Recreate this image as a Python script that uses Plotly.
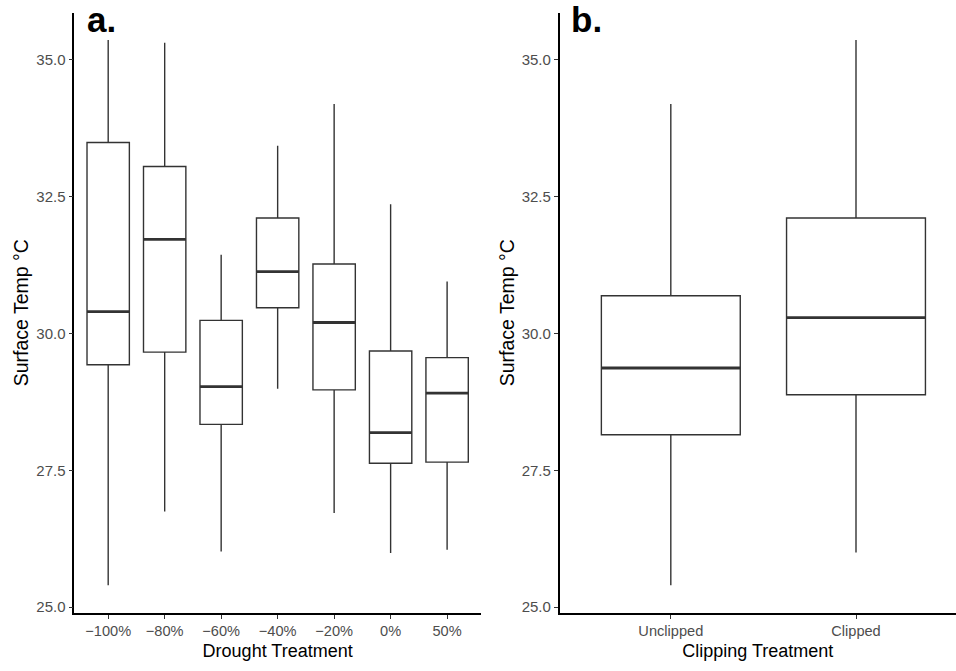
import plotly.graph_objects as go

# Panel a: surface temperature by drought treatment (five-number summaries)
drought_levels = ["\u2212100%", "\u221280%", "\u221260%", "\u221240%", "\u221220%", "0%", "50%"]
drought_low = [25.40, 26.75, 26.02, 28.99, 26.72, 25.99, 26.05]
drought_q1 = [29.43, 29.66, 28.34, 30.47, 28.97, 27.63, 27.65]
drought_med = [30.40, 31.72, 29.03, 31.13, 30.20, 28.19, 28.91]
drought_q3 = [33.49, 33.05, 30.24, 32.11, 31.27, 29.68, 29.56]
drought_high = [35.36, 35.31, 31.44, 33.43, 34.19, 32.36, 30.95]

# Panel b: surface temperature by clipping treatment
clip_levels = ["Unclipped", "Clipped"]
clip_low = [25.40, 26.00]
clip_q1 = [28.15, 28.88]
clip_med = [29.37, 30.29]
clip_q3 = [30.69, 32.11]
clip_high = [34.19, 35.36]

y_ticks = [25.0, 27.5, 30.0, 32.5, 35.0]
y_tick_text = ["25.0", "27.5", "30.0", "32.5", "35.0"]

W, H = 956, 671
LINE = "#333333"
BOX_W = 0.75
FONT = "Liberation Sans, Arial, sans-serif"

fig = go.Figure()


def add_panel(levels, low, q1, med, q3, high, xa, ya):
    pos = list(range(len(levels)))
    fig.add_trace(go.Box(
        x=pos, q1=q1, median=med, q3=q3, lowerfence=low, upperfence=high,
        width=BOX_W, whiskerwidth=0, fillcolor="white",
        line=dict(color=LINE, width=1.4), boxpoints=False,
        xaxis=xa, yaxis=ya, showlegend=False, hoverinfo="skip",
    ))
    # heavier median bars drawn on top of the boxes
    for p, m in zip(pos, med):
        fig.add_trace(go.Scatter(
            x=[p - BOX_W / 2, p + BOX_W / 2], y=[m, m], mode="lines",
            line=dict(color=LINE, width=2.9), xaxis=xa, yaxis=ya,
            showlegend=False, hoverinfo="skip",
        ))


add_panel(drought_levels, drought_low, drought_q1, drought_med, drought_q3, drought_high, "x", "y")
add_panel(clip_levels, clip_low, clip_q1, clip_med, clip_q3, clip_high, "x2", "y2")

y_range = [24.9, 35.86]
y_dom = [1 - 612.7 / H, 1 - 12.7 / H]

common_x = dict(
    showline=True, linecolor="black", linewidth=1.6, ticks="outside", ticklen=4,
    tickcolor="#333333", tickwidth=1.1, showgrid=False, zeroline=False,
    tickfont=dict(family=FONT, size=14.6, color="#4D4D4D"),
    title_font=dict(family=FONT, size=18, color="black"), automargin=False,
)
common_y = dict(
    range=y_range, tickvals=y_ticks, ticktext=y_tick_text, domain=y_dom,
    showline=True, linecolor="black", linewidth=1.6, ticks="outside", ticklen=4,
    tickcolor="#333333", tickwidth=1.1, showgrid=False, zeroline=False,
    tickfont=dict(family=FONT, size=15, color="#4D4D4D"),
    title=dict(text="Surface Temp \u00b0C", font=dict(family=FONT, size=19.5, color="black"), standoff=2),
    automargin=False,
)

fig.update_layout(
    width=W, height=H, margin=dict(l=0, r=0, t=0, b=0),
    plot_bgcolor="white", paper_bgcolor="white",
    xaxis=dict(common_x, domain=[74.3 / W, 481 / W], range=[-0.6, 6.6],
               tickvals=list(range(len(drought_levels))), ticktext=drought_levels,
               title=dict(text="Drought Treatment", standoff=6)),
    xaxis2=dict(common_x, domain=[559.7 / W, 1.0], range=[-0.6, 1.54], anchor="y2",
                tickvals=list(range(len(clip_levels))), ticktext=clip_levels,
                title=dict(text="Clipping Treatment", standoff=6)),
    yaxis=dict(common_y, anchor="x"),
    yaxis2=dict(common_y, anchor="x2"),
    annotations=[
        dict(text="<b>a.</b>", x=85 / W, y=1 - 41 / H, xref="paper", yref="paper",
             xanchor="left", yanchor="bottom", showarrow=False,
             font=dict(family=FONT, size=35, color="black")),
        dict(text="<b>b.</b>", x=569 / W, y=1 - 41 / H, xref="paper", yref="paper",
             xanchor="left", yanchor="bottom", showarrow=False,
             font=dict(family=FONT, size=35, color="black")),
    ],
)

fig.write_html("out.html")
